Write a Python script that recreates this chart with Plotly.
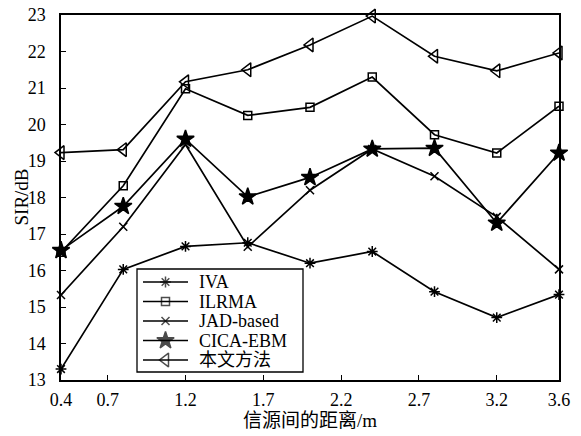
import plotly.graph_objects as go

# Source separation distance (m) and SIR (dB) per method
distance = [0.4, 0.8, 1.2, 1.6, 2.0, 2.4, 2.8, 3.2, 3.6]
sir_iva = [13.3, 16.03, 16.66, 16.76, 16.2, 16.52, 15.42, 14.71, 15.34]
sir_ilrma = [16.5, 18.32, 20.98, 20.25, 20.47, 21.3, 19.72, 19.22, 20.5]
sir_jad = [15.33, 17.2, 19.45, 16.65, 18.2, 19.33, 18.58, 17.47, 16.03]
sir_cica = [16.55, 17.76, 19.6, 18.02, 18.55, 19.33, 19.35, 17.3, 19.22]
sir_prop = [19.23, 19.31, 21.17, 21.5, 22.18, 22.97, 21.87, 21.47, 21.96]

method_names = ["IVA", "ILRMA", "JAD-based", "CICA-EBM", "本文方法"]

x_ticks = [0.4, 0.7, 1.2, 1.7, 2.2, 2.7, 3.2, 3.6]
x_ticklabels = ["0.4", "0.7", "1.2", "1.7", "2.2", "2.7", "3.2", "3.6"]
y_ticks = list(range(13, 24))

series_values = [sir_iva, sir_ilrma, sir_jad, sir_cica, sir_prop]
marker_styles = [("asterisk-open", 9), ("square-open", 8), ("x-thin-open", 8),
                 ("star", 13), ("triangle-left-open", 12)]

FONT = "Liberation Serif, Times New Roman, Noto Sans CJK SC, serif"

# Plot area in pixels (used by the overlay axes that hold the legend box)
W, H = 581, 436
L, R, T, B = 61, 22, 15, 56

fig = go.Figure()
for name, vals, (sym, size) in zip(method_names, series_values, marker_styles):
    fig.add_trace(go.Scatter(
        x=distance, y=vals, name=name, mode="lines+markers",
        line=dict(color="black", width=1.7),
        marker=dict(symbol=sym, size=size, color="black",
                    line=dict(color="black", width=1.5)),
        cliponaxis=False, showlegend=False,
    ))

# Boxed legend drawn on a pixel-scaled overlay axis pair
box_x0, box_x1, box_y0, box_y1 = 137, 303, 269, 372
row_y0, row_step = 282, 19.5
line_x0, line_x1, text_x = 143, 188, 197

fig.add_shape(type="rect", xref="x2", yref="y2",
              x0=box_x0, x1=box_x1, y0=box_y0, y1=box_y1,
              fillcolor="white", line=dict(color="black", width=1.3),
              layer="below")

for i, (name, (sym, size)) in enumerate(zip(method_names, marker_styles)):
    ry = row_y0 + i * row_step
    fig.add_trace(go.Scatter(
        x=[line_x0, (line_x0 + line_x1) / 2, line_x1], y=[ry, ry, ry],
        xaxis="x2", yaxis="y2", mode="lines+markers",
        line=dict(color="black", width=1.7),
        marker=dict(symbol=sym, size=[0, size, 0], color="black",
                    line=dict(color="black", width=1.5)),
        showlegend=False, hoverinfo="skip", cliponaxis=False,
    ))
    fig.add_annotation(x=text_x, y=ry, xref="x2", yref="y2", text=name,
                       showarrow=False, xanchor="left", yanchor="middle",
                       font=dict(family=FONT, size=18, color="black"))

# Y-axis title placed left of the tick labels
fig.add_annotation(x=0, y=0.5, xref="paper", yref="paper", xshift=-40,
                   text="SIR/dB", textangle=-90, showarrow=False,
                   xanchor="center", yanchor="middle",
                   font=dict(family=FONT, size=19, color="black"))

axis_common = dict(
    showline=True, linecolor="black", linewidth=1.5, mirror=True,
    ticks="inside", ticklen=5, tickcolor="black", tickwidth=1.2,
    showgrid=False, zeroline=False, automargin=False,
    tickfont=dict(family=FONT, size=18, color="black"),
)

fig.update_layout(
    width=W, height=H,
    margin=dict(l=L, r=R, t=T, b=B),
    paper_bgcolor="white", plot_bgcolor="white",
    font=dict(family=FONT, color="black"),
    xaxis=dict(range=[0.4, 3.6], tickvals=x_ticks, ticktext=x_ticklabels,
               ticklabelstandoff=3,
               title=dict(text="信源间的距离/m", standoff=2,
                          font=dict(family=FONT, size=19)),
               **axis_common),
    yaxis=dict(range=[13, 23], tickvals=y_ticks, ticklabelstandoff=10,
               **axis_common),
    xaxis2=dict(overlaying="x", range=[L, W - R], visible=False),
    yaxis2=dict(overlaying="y", range=[H - B, T], visible=False),
    showlegend=False,
)

fig.write_html("out.html")
